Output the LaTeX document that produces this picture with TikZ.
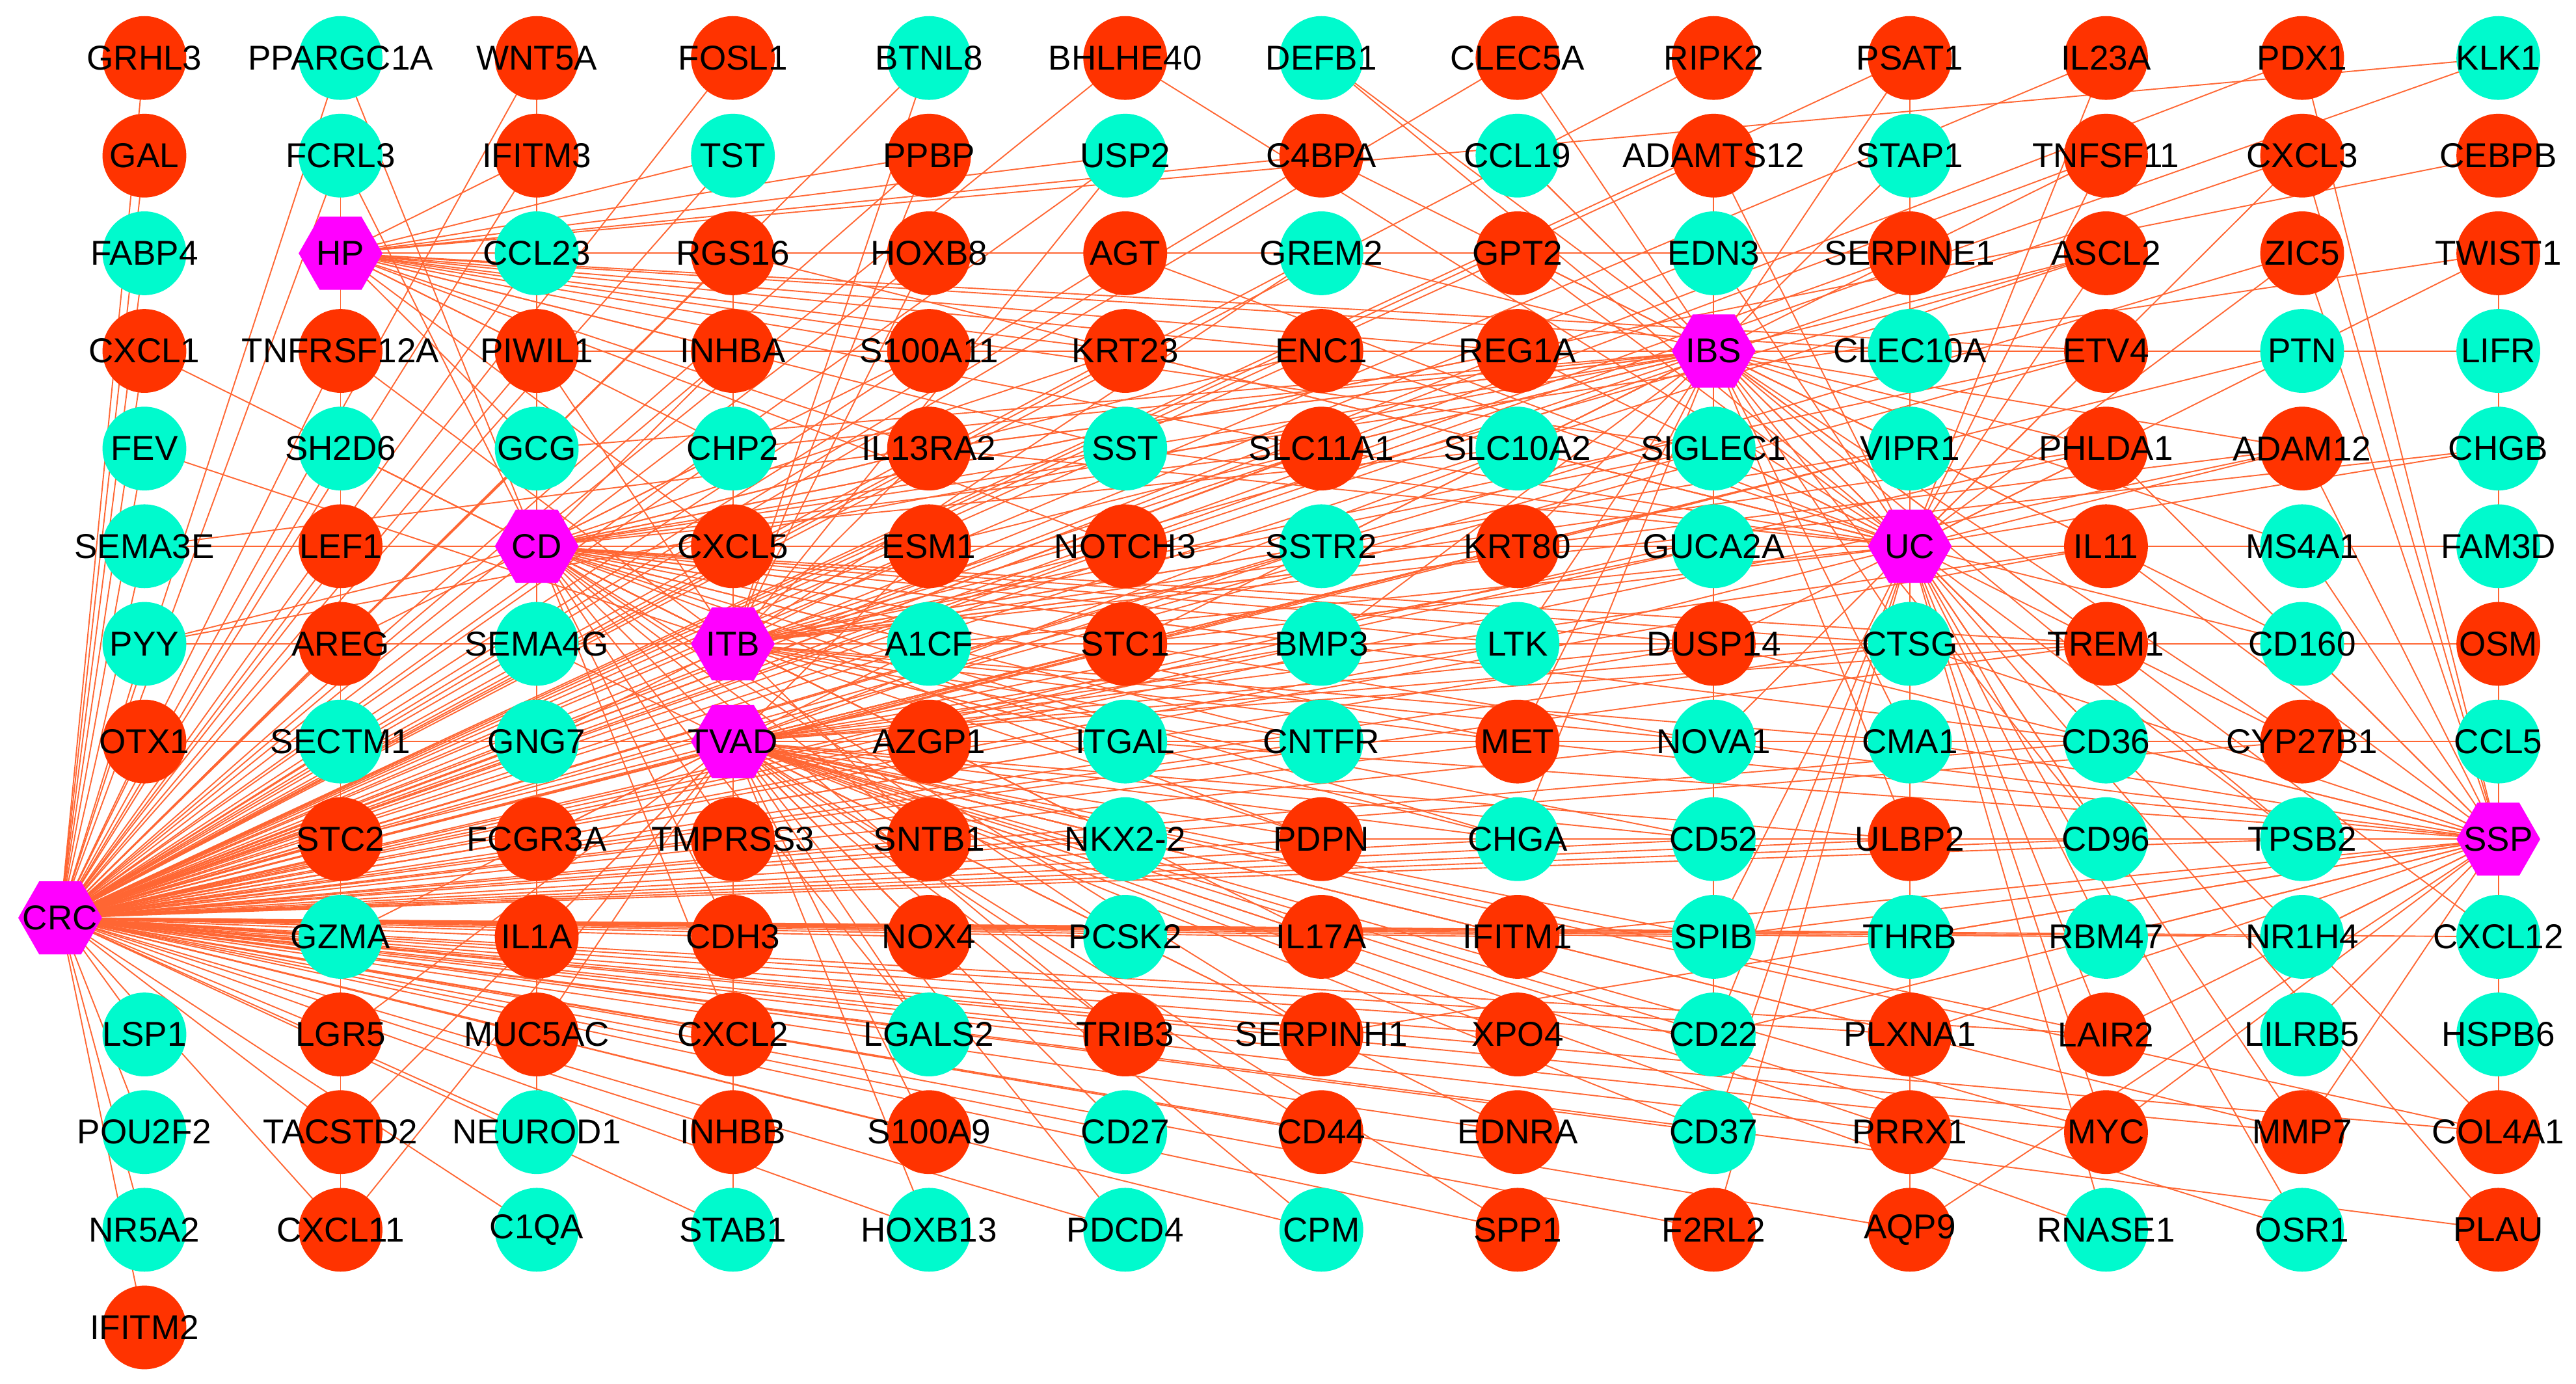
\documentclass[tikz,border=0pt]{standalone}
\usepackage{fontspec}
\setmainfont{Liberation Sans}
\pgfdeclarelayer{bglayer}
\pgfdeclarelayer{edgelayer}
\pgfsetlayers{bglayer,edgelayer,main}
\definecolor{nred}{HTML}{FF3300}
\definecolor{ncyan}{HTML}{00FACD}
\definecolor{nmag}{HTML}{FF00FF}
\definecolor{ecol}{HTML}{FF6633}
\newcommand\generow[3]{\foreach \nm/\kd [count=\i from #2] in {#3} {\node[\kd] (\nm) at ({87.9+119.4*\i},{35.3+59.45*#1}) {}; \node[lbl] at (\nm) {\nm};}}
\newcommand\hubedges[2]{\foreach \tg in {#2} {\draw[lnk] (#1.center) -- (\tg.center);}}
\begin{document}
\begin{tikzpicture}[x=1pt,y=-1pt,
  gr/.style={circle,fill=nred,minimum size=51pt,inner sep=0pt},
  gc/.style={circle,fill=ncyan,minimum size=51pt,inner sep=0pt},
  hx/.style={rectangle,minimum width=51pt,minimum height=44.5pt,inner sep=0pt,
    path picture={\fill[nmag] (path picture bounding box.west) -- ([xshift=12.75pt]path picture bounding box.north west) -- ([xshift=-12.75pt]path picture bounding box.north east) -- (path picture bounding box.east) -- ([xshift=-12.75pt]path picture bounding box.south east) -- ([xshift=12.75pt]path picture bounding box.south west) -- cycle;}},
  lbl/.style={inner sep=0pt,text=black,font=\fontsize{21}{21}\selectfont},
  lnk/.style={draw=ecol,line width=0.75pt}]
\useasboundingbox (0,0) rectangle (1568,842.6);
\begin{pgfonlayer}{bglayer}
\fill[white] (0,0) rectangle (1568,842.6);
\end{pgfonlayer}
% nodes
\generow{0}{0}{GRHL3/gr,PPARGC1A/gc,WNT5A/gr,FOSL1/gr,BTNL8/gc,BHLHE40/gr,DEFB1/gc,CLEC5A/gr,RIPK2/gr,PSAT1/gr,IL23A/gr,PDX1/gr,KLK1/gc}
\generow{1}{0}{GAL/gr,FCRL3/gc,IFITM3/gr,TST/gc,PPBP/gr,USP2/gc,C4BPA/gr,CCL19/gc,ADAMTS12/gr,STAP1/gc,TNFSF11/gr,CXCL3/gr,CEBPB/gr}
\generow{2}{0}{FABP4/gc,HP/hx,CCL23/gc,RGS16/gr,HOXB8/gr,AGT/gr,GREM2/gc,GPT2/gr,EDN3/gc,SERPINE1/gr,ASCL2/gr,ZIC5/gr,TWIST1/gr}
\generow{3}{0}{CXCL1/gr,TNFRSF12A/gr,PIWIL1/gr,INHBA/gr,S100A11/gr,KRT23/gr,ENC1/gr,REG1A/gr,IBS/hx,CLEC10A/gc,ETV4/gr,PTN/gc,LIFR/gc}
\generow{4}{0}{FEV/gc,SH2D6/gc,GCG/gc,CHP2/gc,IL13RA2/gr,SST/gc,SLC11A1/gr,SLC10A2/gc,SIGLEC1/gc,VIPR1/gc,PHLDA1/gr,ADAM12/gr,CHGB/gc}
\generow{5}{0}{SEMA3E/gc,LEF1/gr,CD/hx,CXCL5/gr,ESM1/gr,NOTCH3/gr,SSTR2/gc,KRT80/gr,GUCA2A/gc,UC/hx,IL11/gr,MS4A1/gc,FAM3D/gc}
\generow{6}{0}{PYY/gc,AREG/gr,SEMA4G/gc,ITB/hx,A1CF/gc,STC1/gr,BMP3/gc,LTK/gc,DUSP14/gr,CTSG/gc,TREM1/gr,CD160/gc,OSM/gr}
\generow{7}{0}{OTX1/gr,SECTM1/gc,GNG7/gc,TVAD/hx,AZGP1/gr,ITGAL/gc,CNTFR/gc,MET/gr,NOVA1/gc,CMA1/gc,CD36/gc,CYP27B1/gr,CCL5/gc}
\generow{8}{1}{STC2/gr,FCGR3A/gr,TMPRSS3/gr,SNTB1/gr,NKX2-2/gc,PDPN/gr,CHGA/gc,CD52/gc,ULBP2/gr,CD96/gc,TPSB2/gc,SSP/hx}
\generow{9}{1}{GZMA/gc,IL1A/gr,CDH3/gr,NOX4/gr,PCSK2/gc,IL17A/gr,IFITM1/gr,SPIB/gc,THRB/gc,RBM47/gc,NR1H4/gc,CXCL12/gc}
\generow{10}{0}{LSP1/gc,LGR5/gr,MUC5AC/gr,CXCL2/gr,LGALS2/gc,TRIB3/gr,SERPINH1/gr,XPO4/gr,CD22/gc,PLXNA1/gr,LAIR2/gr,LILRB5/gc,HSPB6/gc}
\generow{11}{0}{POU2F2/gc,TACSTD2/gr,NEUROD1/gc,INHBB/gr,S100A9/gr,CD27/gc,CD44/gr,EDNRA/gr,CD37/gc,PRRX1/gr,MYC/gr,MMP7/gr,COL4A1/gr}
\generow{12}{0}{NR5A2/gc,CXCL11/gr,C1QA/gc,STAB1/gc,HOXB13/gc,PDCD4/gc,CPM/gc,SPP1/gr,F2RL2/gr,AQP9/gr,RNASE1/gc,OSR1/gc,PLAU/gr}
\generow{13}{0}{IFITM2/gr}
\node[hx] (CRC) at (36.6,558.8) {};
\node[lbl] at (CRC) {CRC};
% edges
\begin{pgfonlayer}{edgelayer}
\hubedges{CRC}{GRHL3,GAL,FABP4,CXCL1,FEV,SEMA3E,PYY,OTX1,LSP1,POU2F2,NR5A2,IFITM2,PPARGC1A,FCRL3,TNFRSF12A,SH2D6,LEF1,AREG,SECTM1,STC2,GZMA,LGR5,TACSTD2,CXCL11,WNT5A,IFITM3,CCL23,PIWIL1,GCG,SEMA4G,GNG7,FCGR3A,IL1A,MUC5AC,NEUROD1,C1QA,FOSL1,TST,RGS16,INHBA,CHP2,CXCL5,TMPRSS3,CDH3,CXCL2,INHBB,STAB1,BTNL8,PPBP,HOXB8,S100A11,IL13RA2,ESM1,A1CF,AZGP1,SNTB1,NOX4,LGALS2,S100A9,HOXB13,BHLHE40,USP2,AGT,KRT23,SST,NOTCH3,STC1,ITGAL,NKX2-2,PCSK2,TRIB3,CD27,PDCD4,C4BPA,GREM2,ENC1,SLC11A1,SSTR2,BMP3,CNTFR,PDPN,IL17A,SERPINH1,CD44,CPM,CLEC5A,GPT2,REG1A,KRT80,LTK,MET,CHGA,IFITM1,XPO4,EDNRA,SPP1,RIPK2,ADAMTS12,EDN3,SIGLEC1,GUCA2A,DUSP14,NOVA1,CD52,SPIB,CD22,CD37,F2RL2,PSAT1,SERPINE1,VIPR1,CTSG,ULBP2,THRB,PLXNA1,PRRX1,AQP9,IL23A,TNFSF11,ASCL2,ETV4,PHLDA1,IL11,TREM1,CD36,CD96,RBM47,LAIR2,MYC,PDX1,CXCL3,ZIC5,ADAM12,CYP27B1,TPSB2,NR1H4,MMP7,COL4A1,PLAU,KLK1,CXCL12}
\hubedges{HP}{FCRL3,IFITM3,CCL23,RGS16,HOXB8,AGT,GREM2,GPT2,EDN3,SERPINE1,PIWIL1,INHBA,S100A11,KRT23,ENC1,REG1A,CLEC10A,ETV4,GCG,CHP2,IL13RA2,SST,SLC11A1,SIGLEC1,CXCL5,NOTCH3,TNFRSF12A,KLK1,USP2,C4BPA,CXCL11,PPBP,TST}
\hubedges{CD}{LEF1,GCG,WNT5A,NEUROD1,CXCL5,ESM1,NOTCH3,SSTR2,KRT80,GUCA2A,IL11,MS4A1,FAM3D,CEBPB,TWIST1,STC1,BMP3,LTK,DUSP14,A1CF,IL13RA2,SST,SLC11A1,SLC10A2,AZGP1,ITGAL,CNTFR,MET,NOVA1,TMPRSS3,SNTB1,NKX2-2,PDPN,CHGA,CDH3,NOX4,PCSK2,IL17A,TRIB3,SERPINH1,CXCL2,LGALS2,REG1A,ENC1,KRT23,S100A11,CTSG,CD36,TREM1,CHP2,INHBA,SH2D6,SEMA3E,PYY,AREG,FCRL3,PPARGC1A}
\hubedges{ITB}{CXCL5,CHP2,RGS16,ESM1,A1CF,STC1,BMP3,LTK,DUSP14,CTSG,TREM1,CD160,OSM,AZGP1,ITGAL,CNTFR,MET,NOVA1,CMA1,SNTB1,NKX2-2,PDPN,CHGA,CD52,SLC11A1,IL13RA2,NOTCH3,SSTR2,KRT80,PHLDA1,VIPR1,SIGLEC1,INHBA,PIWIL1,SEMA4G,GNG7,AREG,PYY,CXCL1,FEV,SH2D6,TNFRSF12A,HOXB8,PPBP,BTNL8,USP2,GREM2,ADAM12,CHGB,ETV4,ASCL2}
\hubedges{TVAD}{STC1,KRT80,VIPR1,PTN,AZGP1,ITGAL,CNTFR,MET,NOVA1,CMA1,CD36,CYP27B1,CCL5,SNTB1,NKX2-2,PDPN,CHGA,CD52,ULBP2,TMPRSS3,CDH3,NOX4,PCSK2,IL17A,IFITM1,SPIB,CXCL2,LGALS2,TRIB3,SERPINH1,XPO4,CD22,INHBB,STAB1,S100A9,CD27,CD44,EDNRA,GNG7,SECTM1,SEMA4G,FCGR3A,IL1A,MUC5AC,GZMA,A1CF,ESM1,BMP3,LTK,DUSP14,CTSG,TREM1,SSTR2,GUCA2A,IL11,SLC10A2,OTX1,STC2,LGR5,TACSTD2,CXCL11,HOXB13,PDCD4,CPM,SPP1,CD37,PRRX1,MYC,MMP7,COL4A1,OSR1,RNASE1,PLXNA1,LAIR2}
\hubedges{IBS}{CLEC5A,DEFB1,CCL19,ADAMTS12,EDN3,GPT2,GREM2,C4BPA,REG1A,ENC1,KRT23,S100A11,INHBA,PIWIL1,CLEC10A,ETV4,PTN,LIFR,SIGLEC1,SLC10A2,SLC11A1,VIPR1,PHLDA1,ADAM12,GUCA2A,KRT80,SSTR2,NOTCH3,ESM1,IL11,DUSP14,CTSG,TREM1,CD160,LTK,BMP3,STC1,MET,NOVA1,CMA1,CD36,CHGA,CD52,ULBP2,CD96,TPSB2,SST,GCG,CHP2,IL13RA2,PYY,SEMA3E,MS4A1,SPIB,CD22,PSAT1,STAP1,TNFSF11,ASCL2,CYP27B1,CXCL12}
\hubedges{UC}{PSAT1,STAP1,SERPINE1,CLEC10A,VIPR1,IL23A,TNFSF11,ASCL2,ETV4,PHLDA1,IL11,MS4A1,FAM3D,ADAM12,TREM1,CD160,CTSG,CMA1,CD36,ULBP2,CD96,TPSB2,THRB,RBM47,LAIR2,PLXNA1,MYC,MMP7,AQP9,PRRX1,RNASE1,OSR1,PLAU,COL4A1,SPIB,CD22,CD37,F2RL2,NOVA1,DUSP14,GUCA2A,KRT80,SSTR2,NOTCH3,ESM1,CXCL5,LTK,STC1,A1CF,SIGLEC1,SLC10A2,SLC11A1,GPT2,EDN3,ADAMTS12,AGT,RGS16,KRT23,ENC1,REG1A,SST,IL13RA2,CCL19,DEFB1,BHLHE40,CXCL3,ZIC5,TWIST1,CHGB}
\hubedges{SSP}{CXCL3,ZIC5,PDX1,CHGB,FAM3D,OSM,CCL5,CD160,CYP27B1,TPSB2,CD96,CD36,TREM1,IL11,ULBP2,CMA1,CTSG,NOVA1,CD52,CHGA,PDPN,THRB,SPIB,IFITM1,NR1H4,CXCL12,LILRB5,MMP7,MYC,COL4A1,LAIR2,PLXNA1,AQP9,MS4A1,PHLDA1,DUSP14,MET,ITGAL,RBM47,HSPB6,CD22,SERPINH1,ADAM12,TWIST1}
\end{pgfonlayer}
\end{tikzpicture}
\end{document}
